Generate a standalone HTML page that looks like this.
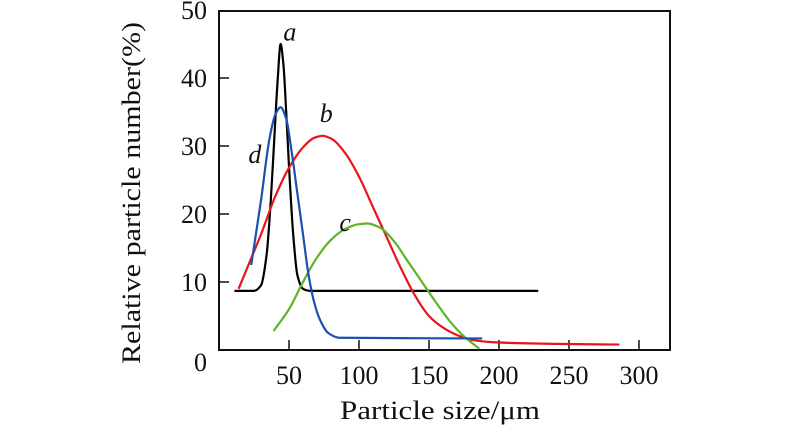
<!DOCTYPE html>
<html><head><meta charset="utf-8"><style>
body{margin:0;background:#fff}
svg text{font-family:"Liberation Serif",serif;fill:#111}
</style></head><body>
<svg id="chart" width="800" height="442" viewBox="0 0 800 442" xmlns="http://www.w3.org/2000/svg">
<g id="axes"></g><g id="series"></g><g id="labels"></g>
</svg>
<script>
const xTicks=[50,100,150,200,250,300];
const yTicks=[0,10,20,30,40,50];
const seriesA=[[11,8.7],[25,8.7],[30,9.5],[34,14],[37,22],[40,33],[42,40],[44,45],[46,42],[48,35],[50,27],[53,17],[56,11],[60,9],[65,8.7],[228,8.7]];
const seriesB=[[14,9],[20,12],[30,17],[40,22.5],[50,26.8],[60,29.8],[68,31.2],[74,31.5],[80,31.1],[90,29],[100,25.5],[110,21],[120,16.5],[130,12],[140,8],[150,5],[160,3.3],[170,2.2],[180,1.5],[200,1.1],[240,0.9],[286,0.8]];
const seriesC=[[39,2.8],[50,6],[60,10],[70,13.6],[80,16.2],[90,17.8],[100,18.5],[106,18.6],[115,18],[125,16],[135,13],[145,10],[155,7],[165,4.2],[175,2],[186,0.2]];
const seriesD=[[23,12.5],[30,22],[36,31],[40,34.5],[44,35.7],[48,34],[52,29],[56,23],[60,17],[64,11],[68,7],[72,4.5],[78,2.5],[86,1.8],[188,1.7]];
const names=['a','b','c','d'];
const colors=['#000','#e8141c','#5bb42a','#1a4fb0'];
const labelPos=[[46,45.5],[72,33.5],[86,17.5],[21,27.5]];

const X=v=>219+v*1.4, Y=v=>350-v*6.8;
const NS='http://www.w3.org/2000/svg';
function mk(t,a,p){const e=document.createElementNS(NS,t);for(const k in a)e.setAttribute(k,a[k]);p.appendChild(e);return e;}
const ax=document.getElementById('axes');
const frame=mk('rect',{x:219,y:11,width:451,height:339,fill:'none',stroke:'#111','stroke-width':2},ax);


xTicks.forEach(t=>{
  const l=mk('line',{x1:X(t),x2:X(t),y1:350,y2:340,stroke:'#111','stroke-width':1.5},ax);
  
  
  const tx=mk('text',{x:X(t),y:384,'font-size':26,'text-anchor':'middle'},ax);tx.textContent=t;
  
  
});
yTicks.forEach(t=>{
  if(t>0&&t<50){const l=mk('line',{x1:219,x2:229,y1:Y(t),y2:Y(t),stroke:'#111','stroke-width':1.5},ax);
  
  }
  const tx=mk('text',{x:207,y:Y(t)+(t==0?21:9),'font-size':26,'text-anchor':'end'},ax);tx.textContent=t;
  
  
});
const xt=mk('text',{x:440,y:419,'font-size':26,'text-anchor':'middle',textLength:200,lengthAdjust:'spacingAndGlyphs'},ax);xt.textContent='Particle size/μm';


const yt=mk('text',{x:0,y:0,'font-size':26,'text-anchor':'middle',textLength:342,lengthAdjust:'spacingAndGlyphs',transform:'translate(140,193) rotate(-90)'},ax);yt.textContent='Relative particle number(%)';



// monotone cubic (Fritsch-Carlson) in x
function path(pts){
  const xs=pts.map(d=>d[0]),ys=pts.map(d=>d[1]),n=pts.length;
  const dx=[],m=[];
  for(let i=0;i<n-1;i++){dx.push(xs[i+1]-xs[i]);m.push((ys[i+1]-ys[i])/dx[i]);}
  const t=[m[0]];
  for(let i=1;i<n-1;i++){
    if(m[i-1]*m[i]<=0)t.push(0);
    else{const w1=2*dx[i]+dx[i-1],w2=dx[i]+2*dx[i-1];t.push((w1+w2)/(w1/m[i-1]+w2/m[i]));}
  }
  t.push(m[n-2]);
  let s='M'+X(xs[0])+','+Y(ys[0]);
  for(let i=0;i<n-1;i++){
    const h=dx[i]/3;
    s+=' C'+X(xs[i]+h)+','+Y(ys[i]+t[i]*h)+' '+X(xs[i+1]-h)+','+Y(ys[i+1]-t[i+1]*h)+' '+X(xs[i+1])+','+Y(ys[i+1]);
  }
  return s;
}
const sg=document.getElementById('series'),lg=document.getElementById('labels');
[seriesA,seriesB,seriesC,seriesD].forEach((s,i)=>{
  const e=mk('path',{d:path(s),fill:'none',stroke:colors[i],'stroke-width':2.2,'stroke-linejoin':'round'},sg);
  
  
  const t=mk('text',{x:X(labelPos[i][0]),y:Y(labelPos[i][1]),'font-size':26,'font-style':'italic'},lg);t.textContent=names[i];
  
  
});
</script>
</body></html>
